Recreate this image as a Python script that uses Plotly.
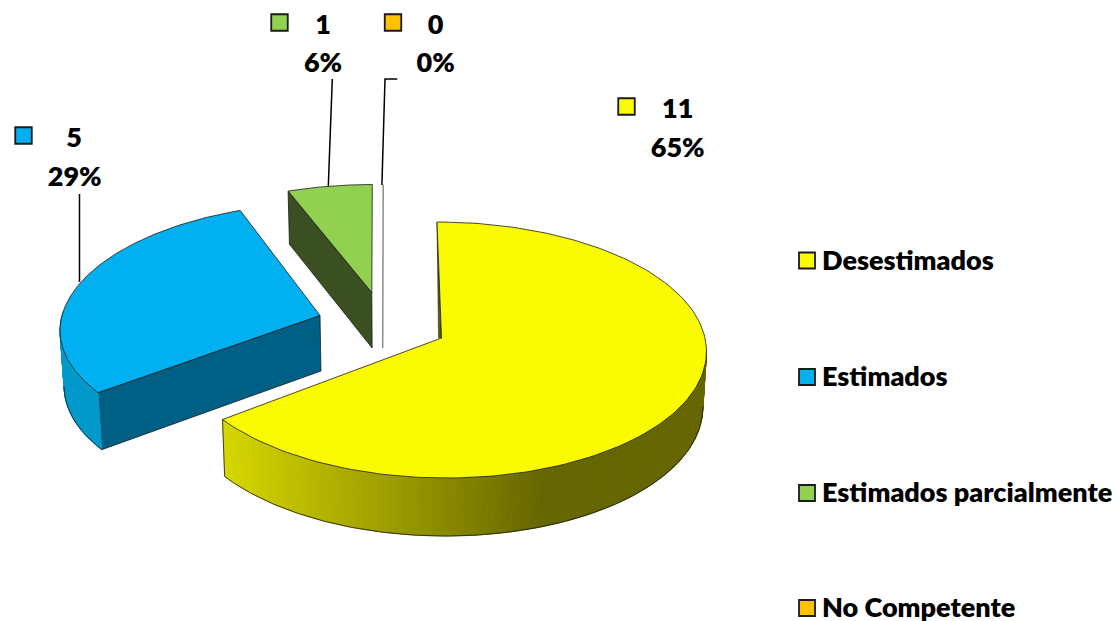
import numpy as np
import plotly.graph_objects as go

# ---- data ----
categories = ["Desestimados", "Estimados", "Estimados parcialmente", "No Competente"]
counts = [11, 5, 1, 0]

# ---- styles ----
top_colors = ["#fafa00", "#00b0f0", "#92d050", "#ffc000"]
cut_colors = ["#5f5f00", "#005f85", "#3a5020", "#8c8c8c"]
EDGE = "#1a1a1a"
FONT = "Lato"
FS = 27

# ---- projection of each exploded slice (pixel-space axes) ----
# ax, ay: apex; R: radius; p: perspective; a, b: vertical scale; k: shear
proj = [
    dict(ax=441.5, ay=338, R=263.5, p=0.09, a=128, b=12, k=-4.5),
    dict(ax=320, ay=315.5, R=258, p=0.108, a=122, b=10, k=4.3),
    dict(ax=371.8, ay=292.5, R=258, p=0.104, a=120, b=12, k=0.5),
    dict(ax=382.7, ay=292.5, R=258, p=0.104, a=120, b=12, k=0.5),
]
VX = 400

fracs = np.array(counts) / sum(counts)
edges = np.concatenate([[0], np.cumsum(fracs) * 360])


def rim(g, th):
    t = np.radians(th)
    X, Y = np.sin(t), np.cos(t)
    return (g["ax"] + g["R"] * X * (1 - g["p"] * Y) + g["k"] * Y,
            g["ay"] - g["a"] * Y + g["b"] * Y ** 2)


def drop(g, x, y, Y):
    return x + 0.012 * (VX - x), y + 55.5 - 2.5 * Y


def rim_low(g, th):
    x, y = rim(g, th)
    return drop(g, x, y, np.cos(np.radians(th)))


fig = go.Figure()


def poly(xs, ys, fill, line=None, width=1):
    fig.add_trace(go.Scatter(
        x=list(xs), y=list(ys), mode="lines", fill="toself", fillcolor=fill,
        line=dict(color=line or fill, width=width), hoverinfo="skip", showlegend=False))


def path(xs, ys, color=EDGE, width=1):
    fig.add_trace(go.Scatter(
        x=list(xs), y=list(ys), mode="lines", line=dict(color=color, width=width),
        hoverinfo="skip", showlegend=False))


def hexmix(c1, c2, t):
    a = [int(c1[i:i + 2], 16) for i in (1, 3, 5)]
    b = [int(c2[i:i + 2], 16) for i in (1, 3, 5)]
    return "#%02x%02x%02x" % tuple(round(u + (v - u) * t) for u, v in zip(a, b))


def outer_wall(g, th_sil, th_corner, light, dark, x0, x1, n, side):
    """Side wall from the silhouette angle to the slice corner."""
    ts = np.linspace(th_sil, th_corner, n + 1)
    for t0, t1 in zip(ts[:-1], ts[1:]):
        sub = np.array([t0, t1])
        xu, yu = rim(g, sub)
        xl, yl = rim_low(g, sub)
        mix = np.clip((xu.mean() - x0) / (x1 - x0), 0, 1)
        poly(list(xu) + list(xl[::-1]) + [xu[0]], list(yu) + list(yl[::-1]) + [yu[0]],
             hexmix(light, dark, mix))
    # outline runs from the silhouette point to the slice corner
    ts = np.linspace(th_sil, th_corner, 200)
    xl, yl = rim_low(g, ts)
    start = int(np.argmax(side * xl))
    path(xl[start:], yl[start:], EDGE, 0.8)


def top_face(i):
    g = proj[i]
    ts = np.linspace(edges[i], edges[i + 1], 160)
    xr, yr = rim(g, ts)
    xs = [g["ax"]] + list(xr) + [g["ax"]]
    ys = [g["ay"]] + list(yr) + [g["ay"]]
    poly(xs, ys, top_colors[i], EDGE, 0.8)


def cut_face(i, th):
    g = proj[i]
    xu, yu = rim(g, th)
    xl, yl = rim_low(g, th)
    ax2, ay2 = drop(g, g["ax"], g["ay"], 0)
    poly([g["ax"], xu, xl, ax2, g["ax"]], [g["ay"], yu, yl, ay2, g["ay"]],
         cut_colors[i], EDGE, 0.8)


# zero-value slice: only its edge shows
g = proj[3]
xu, yu = rim(g, edges[3])
ax2, ay2 = drop(g, g["ax"], g["ay"], 0)
path([xu, g["ax"], g["ax"]], [yu, g["ay"], ay2], cut_colors[3], 1.5)

# green
cut_face(2, edges[2])
top_face(2)

# blue
cut_face(1, edges[1])
outer_wall(proj[1], 272, edges[1], "#0099cc", "#0099cc", 60, 100, 40, -1)
top_face(1)

# yellow
g = proj[0]
xt, yt = rim(g, 0.0)
poly([xt, g["ax"], g["ax"] - 3, xt], [yt, g["ay"], g["ay"], yt], cut_colors[0], EDGE, 0.5)
outer_wall(g, 95, edges[1], "#666600", "#d6d600", 545, 224, 110, 1)
xl0, yl0 = rim_low(g, edges[1])
xu0, yu0 = rim(g, edges[1])
path([xu0, xl0], [yu0, yl0], EDGE, 0.8)
top_face(0)

# leader lines
leaders = [
    ([79.5, 79.5], [194, 282]),
    ([332.3, 328.3], [79, 186]),
    ([397.3, 385, 381.9], [79, 79, 185]),
]
for lx, ly in leaders:
    path(lx, ly, "#000000", 1.5)

# data labels
box_x = [626.5, 23.5, 279.5, 393]
box_y = [106.5, 135.5, 22.5, 22.5]
num_x = [677.7, 74, 323, 435.7]
num_y = [111, 140, 27, 27]
pct_x = [677.7, 74.7, 323, 435.7]
pct_y = [150.7, 179, 65.7, 65.7]
pct_labels = ["%d%%" % round(f * 100) for f in fracs]

fig.add_trace(go.Scatter(
    x=box_x, y=box_y, mode="markers", hoverinfo="skip", showlegend=False,
    marker=dict(symbol="square", size=16.5, color=top_colors, line=dict(color=EDGE, width=1.8))))
fig.add_trace(go.Scatter(
    x=num_x, y=num_y, mode="text", text=[str(c) for c in counts], hoverinfo="skip", showlegend=False,
    textposition="middle center", cliponaxis=False,
    textfont=dict(family=FONT, size=FS, color="#000000", weight=800)))
fig.add_trace(go.Scatter(
    x=pct_x, y=pct_y, mode="text", text=pct_labels, hoverinfo="skip", showlegend=False,
    textposition="middle center", cliponaxis=False,
    textfont=dict(family=FONT, size=FS, color="#000000", weight=800)))

# legend
leg_y = [260.5, 377, 493, 608]
leg_text_y = [y + 2.5 for y in leg_y]
fig.add_trace(go.Scatter(
    x=[807] * 4, y=leg_y, mode="markers", hoverinfo="skip", showlegend=False,
    marker=dict(symbol="square", size=16, color=top_colors, line=dict(color=EDGE, width=1.8))))
fig.add_trace(go.Scatter(
    x=[822] * 4, y=leg_text_y, mode="text", text=categories, hoverinfo="skip", showlegend=False,
    textposition="middle right", cliponaxis=False,
    textfont=dict(family=FONT, size=FS, color="#000000", weight=800)))

fig.update_layout(
    width=1119, height=621, margin=dict(l=0, r=0, t=0, b=0),
    paper_bgcolor="white", plot_bgcolor="white", showlegend=False,
    xaxis=dict(range=[0, 1119], visible=False, fixedrange=True),
    yaxis=dict(range=[621, 0], visible=False, fixedrange=True),
)
fig.write_html("out.html", config=dict(displayModeBar=False),
               post_script="document.body.style.margin='0';document.body.style.overflow='hidden';")
